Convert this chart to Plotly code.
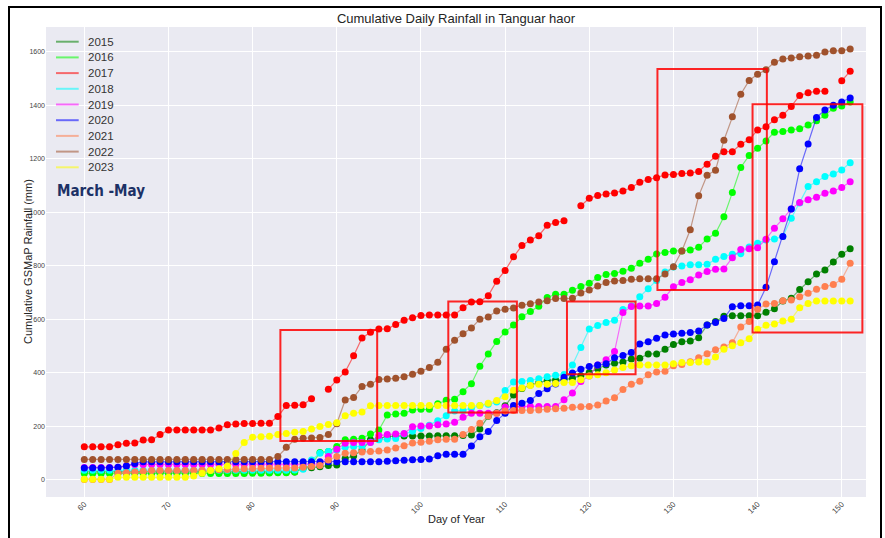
import plotly.graph_objects as go

# Day of year (1 March .. 31 May)
days = list(range(60, 152))

years = ['2015', '2016', '2017', '2018', '2019', '2020', '2021', '2022', '2023']
colors = ['#008000', '#00ff00', '#ff0000', '#00ffff', '#ff00ff',
          '#0000ff', '#ff7f50', '#a0522d', '#ffff00']

# cumulative GSMaP rainfall (mm), one value per day 60..151 (None = missing)
rain_2015 = [30, 30, 30, 30, 30, 30, 30, 30, 30, 30,
             30, 30, 30, 30, 30, 30, 30, 30, 30, 30,
             30, 30, 30, 30, 30, 30, 44, 46, 49, 54,
             56, 80, 90, 112, 150, 155, 162, 164, 164, 164,
             164, 164, 165, 165, 165, 166, 168, 191, 238, 251,
             277, 318, 342, 355, 363, 372, 374, 375, 380, 390,
             402, 416, 430, 436, 441, 452, 455, 471, 471, 489,
             506, 517, 519, 532, 579, 592, 612, 614, 614, 614,
             614, 627, 640, 669, 679, 712, 741, 770, 785, 815,
             844, 864]
rain_2016 = [24, 24, 24, 24, 24, 24, 24, 24, 24, 24,
             24, 24, 24, 24, 24, 24, 24, 24, 24, 24,
             25, 25, 26, 27, 27, 30, 45, 56, 103, 106,
             125, 150, 152, 156, 172, 187, 243, 247, 249, 262,
             264, 264, 285, 298, 302, 330, 360, 425, 471, 518,
             553, 579, 610, 630, 649, 682, 694, 694, 709, 723,
             735, 757, 768, 772, 780, 791, 810, 825, 845, 850,
             856, 856, 860, 870, 901, 922, 984, 1074, 1168, 1213,
             1240, 1267, 1300, 1302, 1308, 1313, 1327, 1343, 1363, 1389,
             1398, 1413]
rain_2017 = [124, 124, 124, 124, 132, 137, 138, 149, 150, 170,
             187, 187, 187, 187, 187, 187, 194, 206, 209, 211,
             211, 212, 212, 237, 278, 279, 281, 304, None, 339,
             374, 404, 464, 531, 552, 564, 565, 581, 597, 606,
             615, 617, 617, 617, 617, 644, 665, 666, 689, 743,
             783, 834, 876, 897, 913, 952, 962, 969, None, 1025,
             1053, 1063, 1069, 1073, 1080, 1093, 1113, 1123, 1130, 1140,
             1142, 1145, 1147, 1153, 1180, 1210, 1227, 1227, 1255, 1272,
             1308, 1320, 1346, 1363, 1396, 1437, 1447, 1453, 1453, None,
             1492, 1528]
rain_2018 = [36, 36, 36, 36, 36, 36, 36, 36, 36, 36,
             36, 36, 36, 36, 36, 36, 36, 36, 36, 36,
             36, 36, 36, 36, 36, 37, 40, 75, 100, 106,
             112, 122, 125, 125, 141, 150, 153, 155, 172, 182,
             192, 205, 221, 240, 258, 260, 268, 278, 283, 291,
             334, 366, 368, 372, 378, 386, 391, 394, 430, 495,
             564, 577, 589, 597, 637, 650, 685, 715, 746, 777,
             796, 800, 804, 804, 806, 825, 835, 844, 846, 871,
             885, 897, 901, 910, 978, 1035, 1097, 1115, 1134, 1144,
             1159, 1186]
rain_2019 = [47, 47, 47, 47, 48, 53, 58, 58, 58, 58,
             58, 58, 58, 58, 58, 58, 58, 58, 58, 58,
             58, 58, 58, 58, 58, 58, 58, 59, 60, 88,
             115, 137, 140, 140, 140, 166, 170, 172, 174, 199,
             202, 202, 206, 209, 216, 234, 249, 249, 249, 249,
             273, 275, 275, 275, 275, 275, 275, 300, 325, 368,
             389, 430, 449, 480, 626, 648, 650, 650, 660, 683,
             722, 738, 748, 766, 779, 788, 789, 831, 861, 864,
             868, 900, 941, 976, 1013, 1037, 1047, 1057, 1072, 1080,
             1093, 1115]
rain_2020 = [45, 45, 45, 46, 48, 52, 62, 68, 68, 68,
             68, 68, 68, 68, 68, 68, 68, 68, 68, 68,
             68, 68, 68, 68, 68, 68, 68, 68, 68, 68,
             68, 68, 68, 68, 68, 68, 70, 72, 74, 76,
             77, 78, 91, 96, 96, 96, 127, 162, 181, 222,
             249, 278, 287, 297, 323, 341, 359, 384, 400, 414,
             424, 430, 434, 457, 465, 476, 508, 517, 530, 542,
             546, 548, 551, 557, 579, 589, 604, 647, 651, 651,
             654, 720, 816, 910, 1013, 1163, 1256, 1355, 1383, 1401,
             1413, 1428]
rain_2021 = [2, 2, 2, 2, 25, 27, 30, 33, 35, 35,
             35, 35, 35, 35, 36, 37, 38, 39, 40, 42,
             43, 44, 45, 45, 45, 45, 48, 50, 54, 75,
             88, 100, 102, 105, 106, 108, 112, 120, 128, 138,
             141, 145, 150, 152, 152, 170, 189, 212, 239, 249,
             258, 260, 260, 260, 262, 264, 266, 268, 272, 274,
             275, 280, 295, 307, 338, 358, 369, 393, 404, 406,
             427, 432, 442, 457, 472, 487, 497, 513, 572, 592,
             638, 658, 660, 670, 673, 685, 698, 713, 723, 731,
             750, 810]
rain_2022 = [77, 77, 77, 77, 77, 77, 77, 77, 77, 77,
             77, 77, 77, 77, 77, 77, 77, 77, 77, 77,
             77, 77, 77, 88, 122, 152, 156, 157, 159, 170,
             210, 299, 308, 349, 358, 376, 377, 380, 386, 395,
             406, 420, 440, 489, 522, 547, 568, 601, 609, 632,
             638, 643, 653, 659, 665, 670, 678, 678, 679, 699,
             710, 725, 738, 744, 746, 750, 752, 752, 752, 770,
             797, 856, 935, 1062, 1139, 1158, 1270, 1358, 1442, 1493,
             1516, 1533, 1561, 1573, 1577, 1582, 1585, 1587, 1600, 1604,
             1604, 1611]
rain_2023 = [3, 3, 3, 3, 10, 10, 10, 10, 10, 10,
             10, 10, 10, 15, 25, 35, 42, 52, 99, 140,
             160, 162, 163, 170, 174, 178, 181, 191, 200, 207,
             214, 240, 249, 254, 277, 278, 278, 278, 278, 278,
             278, 278, 278, 278, 278, 278, 278, 278, 287, 297,
             311, 335, 344, 353, 358, 358, 361, 364, 364, 375,
             389, 393, 401, 411, 420, 427, 430, 430, 430, 430,
             434, 439, 439, 441, 441, 460, 489, 502, 513, 528,
             563, 578, 583, 594, 601, 644, 660, 669, 669, 669,
             669, 669]

series = [rain_2015, rain_2016, rain_2017, rain_2018, rain_2019,
          rain_2020, rain_2021, rain_2022, rain_2023]

# highlighted periods (day start, day end, mm low, mm high)
boxes = [(83.3, 94.8, 146, 561),
         (103.25, 111.4, 252, 667),
         (117.35, 125.5, 395, 667),
         (128.1, 141.1, 710, 1536),
         (139.4, 152.45, 551, 1404)]

# plot area in page pixels
L, T, W, H = 46, 27, 820, 470
FIG_W, FIG_H = 885, 538


def px(x):
    return (x - L) / W


def py(y):
    return (T + H - y) / H


fig = go.Figure()

for yr, col, vals in zip(years, colors, series):
    fig.add_trace(go.Scatter(x=days, y=vals, mode='lines', name=yr,
                             opacity=0.55, showlegend=False,
                             line=dict(color=col, width=1.2)))
    fig.add_trace(go.Scatter(x=days, y=vals, mode='markers', name=yr,
                             showlegend=False,
                             marker=dict(color=col, size=7)))

for x0, x1, y0, y1 in boxes:
    fig.add_shape(type='rect', x0=x0, x1=x1, y0=y0, y1=y1,
                  line=dict(color='rgba(255,0,0,0.85)', width=2))

# legend drawn by hand (tighter spacing than plotly's native legend)
for i, (yr, col) in enumerate(zip(years, colors)):
    ly = py(41.7 + 15.7 * i)
    fig.add_shape(type='line', xref='paper', yref='paper',
                  x0=px(56), x1=px(78.7), y0=ly, y1=ly, opacity=0.55,
                  line=dict(color=col, width=2))
    fig.add_annotation(text=yr, xref='paper', yref='paper', x=px(86),
                       y=ly, xanchor='left', yanchor='middle', showarrow=False,
                       font=dict(size=11.5, color='#333333'))

# outer frame of the figure
fig.add_shape(type='rect', xref='paper', yref='paper',
              x0=px(9), x1=px(881), y0=py(560), y1=py(7),
              line=dict(color='black', width=2))

fig.add_annotation(text='March -May', xref='paper', yref='paper',
                   x=px(55), y=py(191), xanchor='left', yanchor='middle',
                   showarrow=False,
                   font=dict(family='DejaVu Sans Condensed', size=15,
                             color='#1c3166', weight='bold'))
fig.add_annotation(text='Cumulative GSMaP Rainfall (mm)', xref='paper', yref='paper',
                   x=px(20), y=0.5, textangle=-90, showarrow=False,
                   font=dict(size=11, color='#242424'))
fig.add_annotation(text='Day of Year', xref='paper', yref='paper',
                   x=0.5, y=py(527), showarrow=False,
                   font=dict(size=11, color='#242424'))

fig.update_layout(
    width=FIG_W, height=FIG_H,
    margin=dict(l=L, r=FIG_W - L - W, t=T, b=FIG_H - T - H),
    paper_bgcolor='white',
    plot_bgcolor='rgb(234,234,242)',
    font=dict(family='Liberation Sans, Arial', color='#242424'),
    title=dict(text='Cumulative Daily Rainfall in Tanguar haor',
               x=0.5, xref='paper', xanchor='center',
               y=1 - 18 / FIG_H, yanchor='middle',
               font=dict(size=13, color='#242424')),
    showlegend=False,
)

fig.update_xaxes(range=[55.45, 152.88], tickvals=[60, 70, 80, 90, 100, 110, 120, 130, 140, 150],
                 tickangle=-45, tickfont=dict(size=8, color='#444444'),
                 showgrid=True, gridcolor='white', gridwidth=1, zeroline=False,
                 ticks='', showline=False, automargin=False)
fig.update_yaxes(range=[-63.6, 1693], tickvals=[0, 200, 400, 600, 800, 1000, 1200, 1400, 1600],
                 tickfont=dict(size=7, color='#444444'),
                 showgrid=True, gridcolor='white', gridwidth=1, zeroline=False,
                 ticks='', showline=False, automargin=False)

# drop the browser's default 8px body margin so the figure fills the window
fig.write_html("out.html", config={'displayModeBar': False},
               post_script="document.body.style.margin='0';")
